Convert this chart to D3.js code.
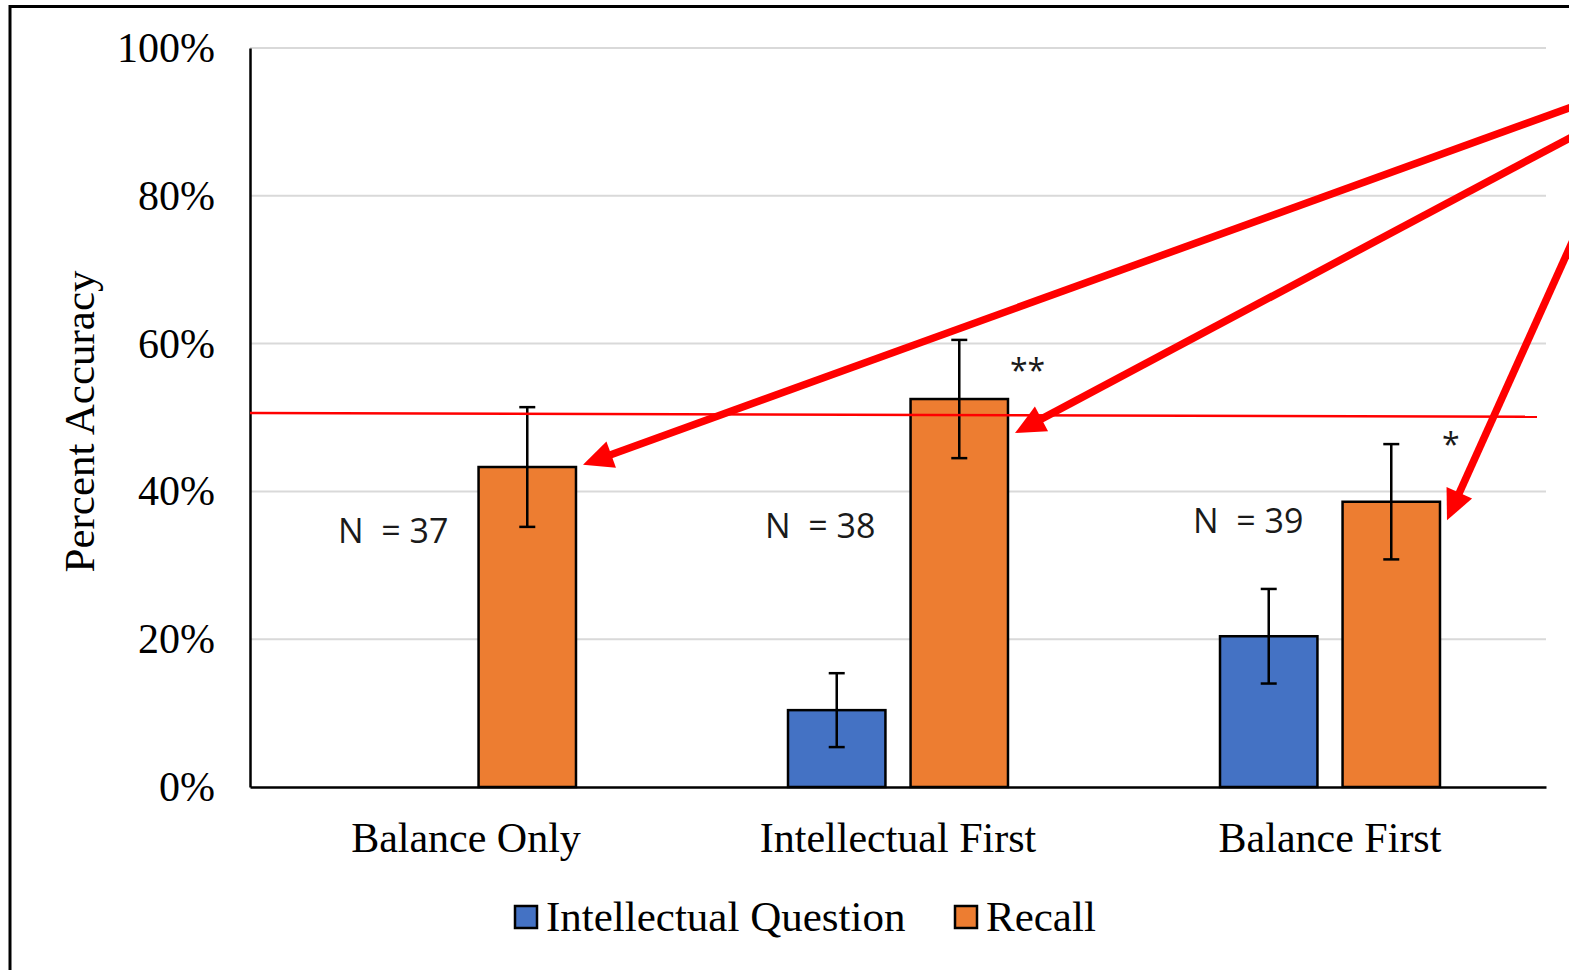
<!DOCTYPE html>
<html>
<head>
<meta charset="utf-8">
<script src="https://cdn.jsdelivr.net/npm/d3@7"></script>
<style>
	body { margin: 0; background: #fff; overflow: hidden; }
	svg { display: block; }
</style>
</head>
<body>
<div id="chart"></div>
<script>
const categories = ["Balance Only", "Intellectual First", "Balance First"];
const series_names = ["Intellectual Question", "Recall"];
const series_colors = ["#4472C4", "#ED7D31"];
const intellectual_values = [null, 10.4, 20.4];
const intellectual_errors = [null, 5.0, 6.4];
const recall_values = [43.3, 52.5, 38.6];
const recall_errors = [8.1, 8.0, 7.8];
const sample_sizes = [37, 38, 39];
const sample_levels = [33.0, 33.7, 34.4];
const stars = ["", "**", "*"];
const star_levels = [null, 57.4, 47.4];
const y_ticks = [0, 20, 40, 60, 80, 100];
const chance_line = [50.6, 50.1];
const arrow_tips = [43.6, 47.9, 36.1];
const arrow_starts = [93.4, 90.0, 82.1];

class bar_chart {

	constructor(opts) {
		this.element = opts.element;
		this.width = 1569;
		this.height = 970;
		this.margin = {top: 48, left: 250, bottom: 183, right: 23};
		this.serif = "'Liberation Serif', 'Times New Roman', serif";
		this.sans = "'Open Sans', 'Noto Sans', sans-serif";
		// text boxes were placed by hand in the original, nudge them per group
		this.label_offsets = [88, 83, 79];
		this.rows = [];
		categories.forEach((c, i) => {
			this.rows.push({cat: c, series: series_names[0], value: intellectual_values[i], err: intellectual_errors[i]});
			this.rows.push({cat: c, series: series_names[1], value: recall_values[i], err: recall_errors[i]});
		});
		this.rows = this.rows.filter(d => d.value !== null);
	}

	draw() {
		this.svg = d3.select(this.element)
						.append("svg")
						.attr("width", this.width)
						.attr("height", this.height)
						.attr("viewBox", `0 0 ${this.width} ${this.height}`);

		// outer frame, cut off on the right and bottom like the original screenshot
		this.svg.append("rect")
				.attr("x", 10).attr("y", 6.5)
				.attr("width", this.width + 40).attr("height", this.height + 40)
				.attr("fill", "#fff")
				.attr("stroke", "#000")
				.attr("stroke-width", 3);

		this.create_scales();
		this.create_axes();
		this.create_shapes();
		this.create_notes();
		this.create_legend();
	}

	create_scales() {
		let left = this.margin.left;
		let right = this.width - this.margin.right;
		this.y_scale = d3.scaleLinear()
						.domain([0, 100])
						.range([this.height - this.margin.bottom, this.margin.top]);
		this.x_scale = d3.scaleBand()
						.domain(categories)
						.range([left, right])
						.padding(0);
		this.s_scale = d3.scaleBand()
						.domain(series_names)
						.range([0, this.x_scale.bandwidth()])
						.paddingInner(0.205)
						.paddingOuter(0.865);
		this.color = d3.scaleOrdinal().domain(series_names).range(series_colors);
	}

	create_axes() {
		let right = this.width - this.margin.right;
		let left = this.margin.left;

		this.svg.append("g")
				.selectAll("line")
				.data(y_ticks.filter(t => t > 0))
				.enter()
				.append("line")
				.attr("x1", left).attr("x2", right)
				.attr("y1", d => this.y_scale(d)).attr("y2", d => this.y_scale(d))
				.attr("stroke", "#d9d9d9")
				.attr("stroke-width", 2);

		this.y_axis = this.svg.append("g")
				.attr("class", "axis y_axis")
				.attr("transform", `translate(${left},0)`)
				.call(d3.axisLeft(this.y_scale).tickValues(y_ticks).tickSize(0).tickPadding(35).tickFormat(d => d + "%"));
		this.y_axis.select(".domain").attr("stroke", "#000").attr("stroke-width", 2.5);
		this.y_axis.selectAll("text")
				.attr("fill", "#000")
				.style("font-family", this.serif)
				.style("font-size", "42px");

		this.x_axis = this.svg.append("g")
				.attr("class", "axis x_axis")
				.attr("transform", `translate(0,${this.y_scale(0)})`)
				.call(d3.axisBottom(this.x_scale).tickSize(0).tickPadding(35));
		this.x_axis.select(".domain").attr("stroke", "#000").attr("stroke-width", 2.5);
		this.x_axis.selectAll("text")
				.attr("fill", "#000")
				.style("font-family", this.serif)
				.style("font-size", "42px");

		this.svg.append("text")
				.attr("transform", `translate(94,${(this.y_scale(0) + this.y_scale(100)) / 2 + 4}) rotate(-90)`)
				.attr("text-anchor", "middle")
				.style("font-family", this.serif)
				.style("font-size", "43px")
				.text("Percent Accuracy");
	}

	create_shapes() {
		let g = this.svg.append("g");
		g.selectAll("rect")
			.data(this.rows)
			.enter()
			.append("rect")
			.attr("x", d => this.x_scale(d.cat) + this.s_scale(d.series))
			.attr("y", d => this.y_scale(d.value))
			.attr("width", this.s_scale.bandwidth())
			.attr("height", d => this.y_scale(0) - this.y_scale(d.value))
			.attr("fill", d => this.color(d.series))
			.attr("stroke", "#000")
			.attr("stroke-width", 2.5);

		let bars = g.selectAll("g.err")
			.data(this.rows)
			.enter()
			.append("g")
			.attr("class", "err")
			.attr("transform", d => `translate(${this.x_scale(d.cat) + this.s_scale(d.series) + this.s_scale.bandwidth() / 2},0)`)
			.attr("stroke", "#000")
			.attr("stroke-width", 2.5);
		bars.append("line")
			.attr("y1", d => this.y_scale(d.value + d.err))
			.attr("y2", d => this.y_scale(d.value - d.err));
		bars.append("line")
			.attr("x1", -8).attr("x2", 8)
			.attr("y1", d => this.y_scale(d.value + d.err))
			.attr("y2", d => this.y_scale(d.value + d.err));
		bars.append("line")
			.attr("x1", -8).attr("x2", 8)
			.attr("y1", d => this.y_scale(d.value - d.err))
			.attr("y2", d => this.y_scale(d.value - d.err));
	}

	create_notes() {
		let left = this.margin.left;
		let right = this.width - this.margin.right;

		// N labels
		this.svg.append("g")
				.selectAll("text")
				.data(categories)
				.enter()
				.append("text")
				.attr("x", (d, i) => this.x_scale(d) + this.label_offsets[i])
				.attr("y", (d, i) => this.y_scale(sample_levels[i]))
				.style("font-family", this.sans)
				.style("font-size", "34px")
				.attr("fill", "#1a1a1a")
				.attr("xml:space", "preserve")
				.text((d, i) => "N  = " + sample_sizes[i]);

		// significance stars
		let recall_right = c => this.x_scale(c) + this.s_scale("Recall") + this.s_scale.bandwidth();
		this.svg.append("g")
				.selectAll("text")
				.data(categories.filter((c, i) => stars[i] !== ""))
				.enter()
				.append("text")
				.attr("x", d => recall_right(d) + 2)
				.attr("y", d => this.y_scale(star_levels[categories.indexOf(d)]) + 19)
				.style("font-family", this.sans)
				.style("font-size", "32px")
				.attr("fill", "#1a1a1a")
				.text(d => stars[categories.indexOf(d)]);

		// red reference line
		this.svg.append("line")
				.attr("x1", left).attr("x2", right - 9)
				.attr("y1", this.y_scale(chance_line[0]))
				.attr("y2", this.y_scale(chance_line[1]))
				.attr("stroke", "#ff0000")
				.attr("stroke-width", 2.5);

		// arrows coming in from the right
		let arrows = this.svg.append("g");
		categories.forEach((c, i) => {
			let x0 = right + 54, y0 = this.y_scale(arrow_starts[i]);
			let x1 = recall_right(c) + 7, y1 = this.y_scale(arrow_tips[i]);
			let dx = x1 - x0, dy = y1 - y0;
			let len = Math.sqrt(dx * dx + dy * dy);
			let ux = dx / len, uy = dy / len;
			let head = 30, half = 14;
			let bx = x1 - ux * head, by = y1 - uy * head;
			arrows.append("line")
				.attr("x1", x0).attr("y1", y0)
				.attr("x2", x1 - ux * 20).attr("y2", y1 - uy * 20)
				.attr("stroke", "#ff0000")
				.attr("stroke-width", 7.5);
			arrows.append("polygon")
				.attr("points", [[x1, y1], [bx - uy * half, by + ux * half], [bx + uy * half, by - ux * half]].map(p => p.join(",")).join(" "))
				.attr("fill", "#ff0000");
		});
	}

	create_legend() {
		let items = [{name: series_names[0], x: 515}, {name: series_names[1], x: 955}];
		let leg = this.svg.append("g")
				.selectAll("g")
				.data(items)
				.enter()
				.append("g")
				.attr("transform", d => `translate(${d.x},906)`);
		leg.append("rect")
				.attr("width", 22).attr("height", 22)
				.attr("fill", d => this.color(d.name))
				.attr("stroke", "#000")
				.attr("stroke-width", 2.5);
		leg.append("text")
				.attr("x", 31).attr("y", 25)
				.style("font-family", this.serif)
				.style("font-size", "43px")
				.text(d => d.name);
	}
}

const chart = new bar_chart({element: "#chart"});
chart.draw();
</script>
</body>
</html>
